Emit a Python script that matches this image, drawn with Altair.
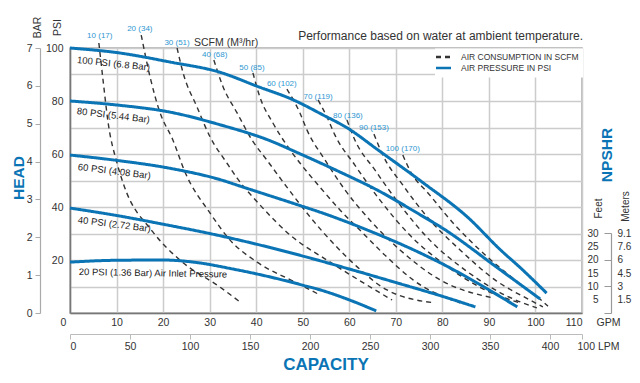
import altair as alt
import pandas as pd

BLUE = "#0a74b5"
LIGHT_BLUE = "#2e97d2"
DARK = "#333333"
SANS = "Liberation Sans, Arial, sans-serif"

# ---------------- data ----------------
# air pressure curves (GPM, PSI)
psi_names = ["100 PSI", "80 PSI", "60 PSI", "40 PSI", "20 PSI"]
p100_gpm = [0, 10.75, 21.5, 32.3, 40, 48, 54.4, 59.6, 66.2, 75.9, 85.4, 92.5, 96.8, 102.4]
p100_psi = [100, 98.1, 94.7, 90.8, 85.7, 80.4, 74.7, 69.8, 61.5, 49.1, 36.2, 23.8, 17, 7.5]
p80_gpm = [0, 10, 21.5, 32.3, 43, 49, 58, 66, 75.3, 79.6, 92.5, 101]
p80_psi = [80, 78.5, 75.8, 71, 65, 60.4, 53.2, 46.4, 37, 32.5, 16.2, 5.3]
p60_gpm = [0, 10, 21.5, 32.3, 37.2, 49.5, 53.8, 63.9, 75.3, 79.6, 96.1]
p60_psi = [59.6, 57.6, 54.6, 50.3, 47.5, 40.5, 38, 31.3, 22.6, 18.9, 2.3]
p40_gpm = [0, 10, 20, 30, 40, 50, 60, 70, 80, 87.1]
p40_psi = [39.6, 36.8, 33.5, 30, 26, 21.5, 16.6, 11.5, 6.3, 2.3]
p20_gpm = [0, 10, 20, 27, 35, 43, 50, 54, 59, 65.8]
p20_psi = [19.2, 19.9, 20.0, 19.1, 16.6, 13.6, 10.5, 8.6, 5.6, 0.8]

# air consumption curves (GPM, PSI)
scfm_names = ["10", "20", "30", "40", "50", "60", "70", "80", "90", "100"]
s10_gpm = [6.2, 7.1, 8.2, 10.1, 11.4, 17.8, 23.6, 32.2, 36.5]
s10_psi = [101.9, 87.9, 71.7, 56.6, 49.1, 30.6, 20.0, 9.8, 4.2]
s20_gpm = [15.3, 17.2, 19.3, 22.1, 24.7, 30.1, 34.4, 40.2, 48.8, 53.7]
s20_psi = [104.9, 89.1, 75.8, 65.3, 53.2, 37.7, 27.5, 19.2, 11.3, 6.8]
s30_gpm = [23.0, 24.3, 27.3, 30.1, 33.7, 35.9, 40.8, 47.3, 55.9, 69.2]
s30_psi = [100, 90.6, 77.7, 66.4, 56.6, 50.9, 40.8, 29.4, 19.2, 4.9]
s40_gpm = [30.9, 32.9, 35.9, 39.1, 42.3, 46.6, 51.6, 56.5, 61.7, 68.1, 78.4]
s40_psi = [95.5, 85.3, 75.5, 65.3, 57.7, 47.5, 36.2, 26.4, 17.4, 8.7, 3.8]
s50_gpm = [39.3, 40.8, 43.6, 47.3, 49.4, 53.7, 58.0, 62.9, 68.1, 73.7, 83.8]
s50_psi = [90.6, 81.5, 71.7, 61.5, 56.6, 47.5, 38.9, 30.2, 21.1, 12.5, 3.8]
s60_gpm = [46.6, 49.4, 50.9, 54.8, 59.1, 64.4, 70.9, 79.5, 90.9]
s60_psi = [84.5, 75.5, 69.1, 57.7, 46.4, 35.1, 23.8, 12.5, 5.7]
s70_gpm = [53.3, 55.2, 56.9, 61.2, 66.6, 73.0, 80.6, 90.2, 96.7]
s70_psi = [80.4, 74.0, 67.2, 55.8, 42.6, 29.4, 18.1, 7.9, 3.8]
s80_gpm = [59.5, 61.2, 65.5, 70.9, 77.3, 84.9, 93.4, 100.3]
s80_psi = [72.8, 65.3, 54.0, 40.8, 27.5, 16.2, 6.8, 1.9]
s90_gpm = [65.3, 67.2, 71.5, 77.3, 83.8, 91.3, 98.8, 101.6]
s90_psi = [67.5, 59.6, 48.3, 35.1, 23.8, 12.5, 4.9, 2.3]
s100_gpm = [71.5, 73.0, 77.3, 82.7, 89.2, 95.6, 101.2, 102.7]
s100_psi = [59.6, 53.9, 44.5, 33.2, 21.9, 12.5, 4.9, 2.6]

scfm_labels = ["10 (17)", "20 (34)", "30 (51)", "40 (68)", "50 (85)",
               "60 (102)", "70 (119)", "80 (136)", "90 (153)", "100 (170)"]
scfm_label_gpm = [6.4, 15.0, 23.0, 31.1, 39.1, 45.5, 53.3, 59.7, 65.3, 71.5]
scfm_label_psi = [104.5, 107.2, 101.9, 97.4, 92.5, 86.4, 81.5, 74.3, 69.8, 61.9]

curve_labels = ["100 PSI (6.8 Bar)", "80 PSI (5.44 Bar)", "60 PSI (4.08 Bar)",
                "40 PSI (2.72 Bar)", "20 PSI (1.36 Bar) Air Inlet Pressure"]
curve_label_gpm = [1.5, 1.5, 1.7, 1.7, 1.9]
curve_label_psi = [95.5, 76.2, 55.1, 35.1, 15.5]
curve_label_angle = [6, 7, 7, 7, 1]

gpm_ticks = list(range(0, 111, 10))
psi_ticks = list(range(0, 101, 10))
bar_ticks = list(range(0, 8))
lpm_ticks = [0, 50, 100, 150, 200, 250, 300, 350, 400]
lpm_end = 426.67
feet_ticks = [0, 5, 10, 15, 20, 25, 30]
meter_labels = ["", "1.5", "3", "4.5", "6", "7.6", "9.1"]

KIND_AIR = "AIR CONSUMPTION IN SCFM"
KIND_PSI = "AIR PRESSURE IN PSI"

# ---------------- frames ----------------
rows = []
for name, xs, ys in zip(psi_names, [p100_gpm, p80_gpm, p60_gpm, p40_gpm, p20_gpm],
                        [p100_psi, p80_psi, p60_psi, p40_psi, p20_psi]):
    for i, (x, y) in enumerate(zip(xs, ys)):
        rows.append({"series": name, "gpm": x, "psi": y, "i": i, "kind": KIND_PSI})
psi_df = pd.DataFrame(rows)

rows = []
for name, xs, ys in zip(scfm_names,
                        [s10_gpm, s20_gpm, s30_gpm, s40_gpm, s50_gpm, s60_gpm, s70_gpm, s80_gpm, s90_gpm, s100_gpm],
                        [s10_psi, s20_psi, s30_psi, s40_psi, s50_psi, s60_psi, s70_psi, s80_psi, s90_psi, s100_psi]):
    for i, (x, y) in enumerate(zip(xs, ys)):
        rows.append({"series": name, "gpm": x, "psi": y, "i": i, "kind": KIND_AIR})
air_df = pd.DataFrame(rows)

scfm_lab_df = pd.DataFrame({"t": scfm_labels, "gpm": scfm_label_gpm, "psi": scfm_label_psi})
curve_lab_df = pd.DataFrame({"t": curve_labels, "gpm": curve_label_gpm,
                             "psi": curve_label_psi, "ang": curve_label_angle})

# ---------------- encodings ----------------
X = alt.X("gpm:Q", scale=alt.Scale(domain=[0, 110], nice=False, zero=False),
          axis=alt.Axis(values=gpm_ticks, grid=True, ticks=False, domain=True,
                        domainColor="#777777", domainWidth=1.5,
                        gridColor="#cccccc", gridWidth=1.5,
                        labelFontSize=10.5, labelPadding=4,
                        labelOffset={"condition": {"test": "datum.value == 0", "value": -10}, "value": 0},
                        title="GPM", titleX=538, titleY=9, titleBaseline="middle",
                        titleAlign="center", titleFontSize=10.5, titleAngle=0))
Y = alt.Y("psi:Q", scale=alt.Scale(domain=[0, 100], nice=False),
          axis=alt.Axis(values=psi_ticks, grid=True, ticks=False, domain=True,
                        domainColor="#777777", domainWidth=1.5,
                        gridColor="#cccccc", gridWidth=1.5,
                        labelFontSize=10.5, labelPadding=7,
                        labelExpr="datum.value > 0 && datum.value % 20 == 0 ? datum.label : ''",
                        title="PSI", titleX=-13, titleY=-21, titleAngle=270,
                        titleBaseline="middle", titleAlign="center", titleFontSize=10.5))

legend = alt.Legend(orient="none", legendX=365, legendY=0.5, title=None,
                    fillColor="white", padding=4, labelFont=SANS, labelFontSize=8.5,
                    labelColor=DARK, symbolType="M-2.5,0H2.5", symbolStrokeWidth=2.5,
                    symbolSize=36, rowPadding=0, labelOffset=13)
color = alt.Color("kind:N", scale=alt.Scale(domain=[KIND_AIR, KIND_PSI], range=[DARK, BLUE]),
                  legend=legend)
dash = alt.StrokeDash("kind:N", scale=alt.Scale(domain=[KIND_AIR, KIND_PSI], range=[[5, 4], [1, 0]]),
                      legend=legend)

air_lines = alt.Chart(air_df).mark_line(strokeWidth=1.4, interpolate="monotone").encode(
    x=X, y=Y, color=color, strokeDash=dash, detail="series:N", order="i:Q")
psi_lines = alt.Chart(psi_df).mark_line(strokeWidth=3, interpolate="monotone").encode(
    x=X, y=Y, color=color, strokeDash=dash, detail="series:N", order="i:Q")
scfm_text = alt.Chart(scfm_lab_df).mark_text(font=SANS, fontSize=8, color=LIGHT_BLUE).encode(
    x=X, y=Y, text="t:N")
curve_text = alt.Chart(curve_lab_df).mark_text(font=SANS, fontSize=9.5, color="#222222",
                                               align="left", baseline="middle").encode(
    x=X, y=Y, text="t:N", angle=alt.Angle("ang:Q", scale=None))

main = alt.layer(air_lines, psi_lines, scfm_text, curve_text)

# secondary axes
bar_layer = alt.Chart(pd.DataFrame({"bar": bar_ticks})).mark_point(opacity=0).encode(
    y=alt.Y("bar:Q", scale=alt.Scale(domain=[0, 7], nice=False),
            axis=alt.Axis(orient="left", offset=30, values=bar_ticks, grid=False,
                          domainColor="#aaaaaa", domainWidth=1.2, tickColor="#aaaaaa",
                          tickSize=5, labelFontSize=10.5, labelPadding=3,
                          title="BAR", titleX=-3, titleY=-21, titleAngle=270,
                          titleBaseline="middle", titleAlign="center", titleFontSize=10.5)))

lpm_layer = alt.Chart(pd.DataFrame({"lpm": lpm_ticks})).mark_point(opacity=0).encode(
    x=alt.X("lpm:Q", scale=alt.Scale(domain=[0, lpm_end], nice=False),
            axis=alt.Axis(orient="bottom", offset=21, values=lpm_ticks + [lpm_end], grid=False,
                          domainColor="#bbbbbb", domainWidth=1.2, tickColor="#bbbbbb",
                          tickSize=5, labelFontSize=10.5, labelPadding=2,
                          labelExpr=f"datum.value > {lpm_ticks[-1]} ? '' : datum.label",
                          title="100 LPM", titleX=528, titleY=12, titleBaseline="middle",
                          titleAlign="center", titleFontSize=10.5, titleAngle=0)))

feet_scale = alt.Scale(domain=[0, 30], range=[265, 185], nice=False)
feet_layer = alt.Chart(pd.DataFrame({"ft": feet_ticks})).mark_point(opacity=0).encode(
    y=alt.Y("ft:Q", scale=feet_scale,
            axis=alt.Axis(orient="left", offset=-541, values=feet_ticks, grid=False,
                          domainColor="#999999", domainWidth=1.2, tickColor="#999999",
                          tickSize=7,
                          tickOpacity={"condition": {"test": "datum.value % 10 == 0", "value": 1}, "value": 0},
                          labelFontSize=10, labelPadding=6,
                          labelExpr="datum.value == 0 ? '' : datum.label",
                          title="Feet", titleX=-13, titleY=160, titleAngle=270,
                          titleBaseline="middle", titleAlign="center", titleFontSize=10)))

meter_expr = " : ".join(f"datum.value == {f} ? '{m}'" for f, m in zip(feet_ticks, meter_labels)) + " : ''"
meter_layer = alt.Chart(pd.DataFrame({"ft": feet_ticks})).mark_point(opacity=0).encode(
    y=alt.Y("ft:Q", scale=feet_scale,
            axis=alt.Axis(orient="right", offset=29, values=feet_ticks, grid=False,
                          domain=False, ticks=False, labelFontSize=10, labelPadding=6,
                          labelExpr=meter_expr,
                          title="Meters", titleX=14, titleY=158, titleAngle=270,
                          titleBaseline="middle", titleAlign="center", titleFontSize=10)))


def note(text, x, y, size, weight="normal", color=DARK, angle=0, align="center", font=SANS):
    return alt.Chart(pd.DataFrame({"t": [text]})).mark_text(
        font=font, fontSize=size, fontWeight=weight, color=color, angle=angle,
        align=align, baseline="middle").encode(text="t:N", x=alt.value(x), y=alt.value(y))


notes = [
    note("HEAD", -51, 130, 15.5, "bold", BLUE, 270),
    note("CAPACITY", 256, 317, 17, "bold", BLUE),
    note("NPSHR", 537, 107, 15.5, "bold", BLUE, 270),
    note("Performance based on water at ambient temperature.", 513, -12, 12, align="right"),
    note("SCFM (M³/hr)", 124, -5, 10.5, align="left"),
]

chart = alt.layer(main, bar_layer, lpm_layer, feet_layer, meter_layer, *notes).resolve_scale(
    x="independent", y="independent"
).properties(
    width=512, height=265,
    autosize=alt.AutoSizeParams(type="none"),
    padding={"left": 62, "top": 40, "right": 50, "bottom": 60},
).configure_view(
    stroke="#aaaaaa", strokeWidth=1.5
).configure_axis(
    labelFont=SANS, titleFont=SANS, labelColor=DARK, titleColor=DARK,
    titleFontWeight="normal"
)

chart.save("out.html", embed_options={"renderer": "svg", "actions": False})
